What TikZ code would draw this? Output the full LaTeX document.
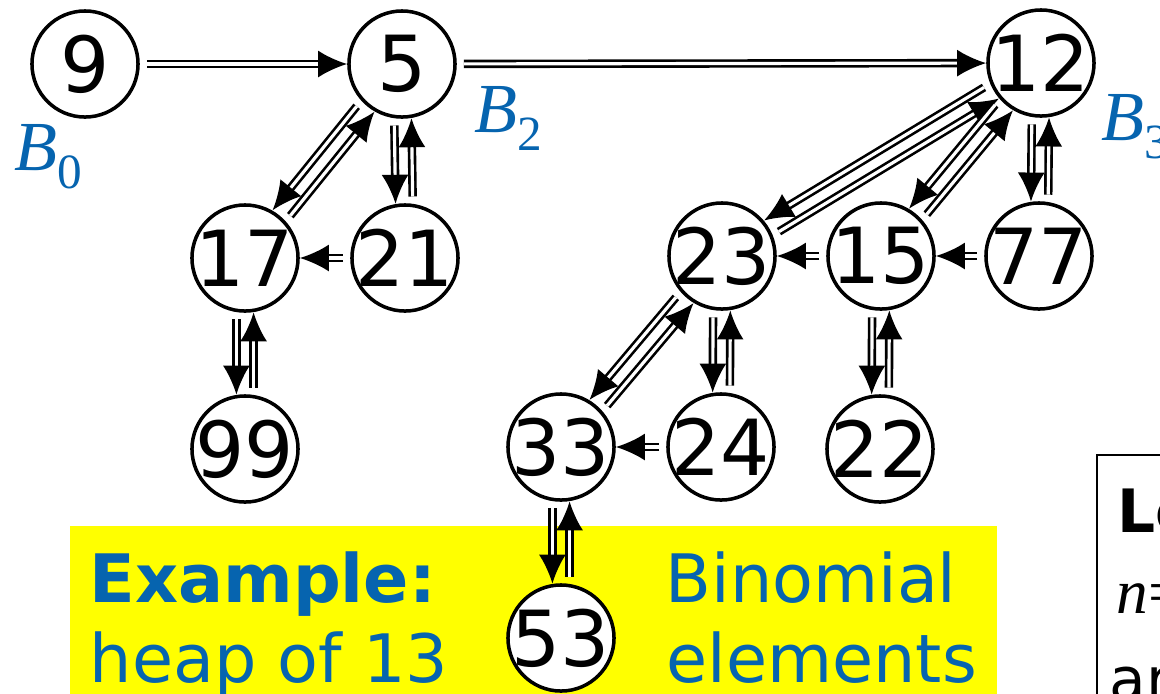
\documentclass[tikz,border=0pt]{standalone}
\usepackage{fontspec}
\setmainfont{DejaVu Sans}
\newfontfamily\timesfont{Liberation Serif}
\usetikzlibrary{arrows.meta,calc}
\definecolor{slideblue}{RGB}{6,100,175}
\definecolor{slideyellow}{RGB}{255,255,0}

\begin{document}
\begin{tikzpicture}[x=0.01cm,y=-0.01cm,
  heapnode/.style={circle,draw,line width=1pt,fill=white,minimum size=1.06cm,inner sep=0pt,font=\fontsize{22}{22}\selectfont},
  ptr/.style={double,double distance=0.9pt,line width=0.75pt,shorten <=2pt,-{Latex[length=0.29cm,width=0.27cm]}},
  bname/.style={text=slideblue,inner sep=0pt,anchor=base west,font=\timesfont\itshape\fontsize{20}{20}\selectfont},
  caption/.style={text=slideblue,inner sep=0pt,anchor=base west}]
\useasboundingbox (0,0) rectangle (1160,693);
\clip (0,0) rectangle (1160,693);
% yellow strip and the box on the right
\fill[slideyellow] (70,526) rectangle (997,700);
\draw[line width=0.5pt] (1097,700) -- (1097,455) -- (1170,455);
% binomial trees B0, B2, B3
\node[heapnode] (n9) at (85,64) {\makebox[0pt]{9}};
\node[heapnode] (n5) at (402,64) {\makebox[0pt]{5}};
\node[heapnode] (n12) at (1041,63) {\makebox[0pt]{12}};
\node[heapnode] (n17) at (245,258) {\makebox[0pt]{17}};
\node[heapnode] (n21) at (405,258) {\makebox[0pt]{21}};
\node[heapnode] (n23) at (722,256) {\makebox[0pt]{23}};
\node[heapnode] (n15) at (881,256) {\makebox[0pt]{15}};
\node[heapnode] (n77) at (1039,256) {\makebox[0pt]{77}};
\node[heapnode] (n99) at (245,449) {\makebox[0pt]{99}};
\node[heapnode] (n33) at (561,447) {\makebox[0pt]{33}};
\node[heapnode] (n24) at (721,447) {\makebox[0pt]{24}};
\node[heapnode] (n22) at (880,449) {\makebox[0pt]{22}};
\node[heapnode] (n53) at (561,638) {\makebox[0pt]{53}};
% tree names
\node[bname] (b0) at (14,170) {B\raisebox{-0.18cm}{\upshape\fontsize{14}{14}\selectfont 0}};
\node[bname] (b2) at (474,132) {B\raisebox{-0.18cm}{\upshape\fontsize{14}{14}\selectfont 2}};
\node[bname] (b3) at (1101,140) {B\raisebox{-0.18cm}{\upshape\fontsize{14}{14}\selectfont 3}};
% root list
\draw[ptr] (n9) -- (n5);
\draw[ptr] (n5) -- (n12);
% parent and child pointers
\draw[ptr] ($(n5)!0.55cm!-9:(n17)$) -- ($(n17)!0.55cm!9:(n5)$);
\draw[ptr] ($(n17)!0.55cm!-9:(n5)$) -- ($(n5)!0.55cm!9:(n17)$);
\draw[ptr] ($(n5)!0.55cm!-9:(n21)$) -- ($(n21)!0.55cm!9:(n5)$);
\draw[ptr] ($(n21)!0.55cm!-9:(n5)$) -- ($(n5)!0.55cm!9:(n21)$);
\draw[ptr] ($(n17)!0.55cm!-9:(n99)$) -- ($(n99)!0.55cm!9:(n17)$);
\draw[ptr] ($(n99)!0.55cm!-9:(n17)$) -- ($(n17)!0.55cm!9:(n99)$);
\draw[ptr] ($(n12)!0.55cm!-9:(n23)$) -- ($(n23)!0.55cm!9:(n12)$);
\draw[ptr] ($(n23)!0.55cm!-9:(n12)$) -- ($(n12)!0.55cm!9:(n23)$);
\draw[ptr] ($(n12)!0.55cm!-9:(n15)$) -- ($(n15)!0.55cm!9:(n12)$);
\draw[ptr] ($(n15)!0.55cm!-9:(n12)$) -- ($(n12)!0.55cm!9:(n15)$);
\draw[ptr] ($(n12)!0.55cm!-9:(n77)$) -- ($(n77)!0.55cm!9:(n12)$);
\draw[ptr] ($(n77)!0.55cm!-9:(n12)$) -- ($(n12)!0.55cm!9:(n77)$);
\draw[ptr] ($(n23)!0.55cm!-9:(n33)$) -- ($(n33)!0.55cm!9:(n23)$);
\draw[ptr] ($(n33)!0.55cm!-9:(n23)$) -- ($(n23)!0.55cm!9:(n33)$);
\draw[ptr] ($(n23)!0.55cm!-9:(n24)$) -- ($(n24)!0.55cm!9:(n23)$);
\draw[ptr] ($(n24)!0.55cm!-9:(n23)$) -- ($(n23)!0.55cm!9:(n24)$);
\draw[ptr] ($(n15)!0.55cm!-9:(n22)$) -- ($(n22)!0.55cm!9:(n15)$);
\draw[ptr] ($(n22)!0.55cm!-9:(n15)$) -- ($(n15)!0.55cm!9:(n22)$);
\draw[ptr] ($(n33)!0.55cm!-9:(n53)$) -- ($(n53)!0.55cm!9:(n33)$);
\draw[ptr] ($(n53)!0.55cm!-9:(n33)$) -- ($(n33)!0.55cm!9:(n53)$);
% sibling pointers
\draw[ptr] (n21) -- (n17);
\draw[ptr] (n15) -- (n23);
\draw[ptr] (n77) -- (n15);
\draw[ptr] (n24) -- (n33);
% caption
\node[caption,font=\bfseries\fontsize{19}{19}\selectfont] (ex) at (89,602) {Example:};
\node[caption,font=\fontsize{19}{19}\selectfont] (heap) at (89,682) {heap of 13};
\node[caption,font=\fontsize{19}{19}\selectfont] (bin) at (665,602) {Binomial};
\node[caption,font=\fontsize{19}{19}\selectfont] (elem) at (666,682) {elements};
% text in the right box
\node[anchor=base west,inner sep=0pt,font=\bfseries\fontsize{17}{17}\selectfont] (lem) at (1117,532) {Le};
\node[anchor=base west,inner sep=0pt,font=\timesfont\fontsize{18}{18}\selectfont] (nn) at (1116,613) {\itshape n\upshape =};
\node[anchor=base west,inner sep=0pt,font=\fontsize{17}{17}\selectfont] (ar) at (1109,700) {ar};
\end{tikzpicture}
\end{document}
